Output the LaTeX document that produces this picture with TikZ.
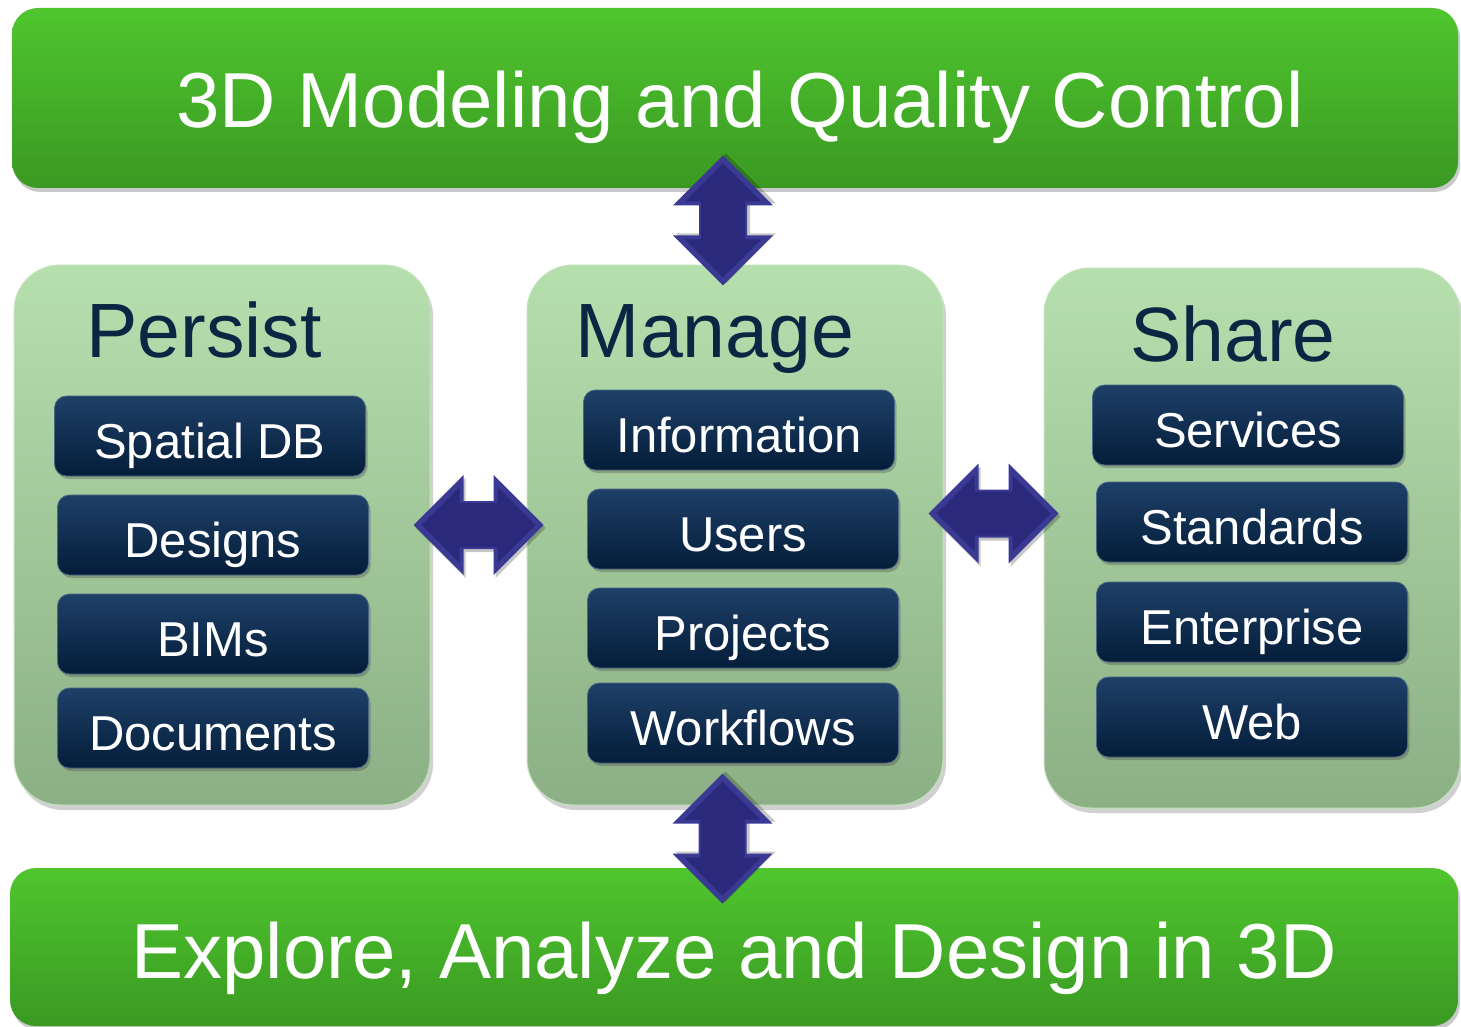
\documentclass[tikz,border=0pt]{standalone}
\usepackage{fontspec}
\setmainfont{Liberation Sans}
\usetikzlibrary{shadows,calc}
\definecolor{barTop}{HTML}{4FC62E}
\definecolor{barBot}{HTML}{3A9922}
\definecolor{panTop}{HTML}{B6DFAE}
\definecolor{panMid}{HTML}{ABD4A2}
\definecolor{panBot}{HTML}{8CAF85}
\definecolor{panRim}{HTML}{C3E4BB}
\definecolor{boxTop}{HTML}{1E4068}
\definecolor{boxBot}{HTML}{041D39}
\definecolor{titleNavy}{HTML}{0C2542}
\definecolor{arrOut}{HTML}{3A3994}
\definecolor{arrIn}{HTML}{2B297C}
\begin{document}
\begin{tikzpicture}[x=1pt,y=-1pt,
  bar/.style={rectangle, rounded corners=26pt, top color=barTop, bottom color=barBot,
    drop shadow={shadow xshift=2pt, shadow yshift=-4pt, opacity=0.35, fill=black!60}},
  panel/.style={rectangle, rounded corners=46pt, top color=panTop, middle color=panMid, bottom color=panBot,
    draw=panRim, line width=1pt, minimum width=416pt, minimum height=540pt,
    drop shadow={shadow xshift=3pt, shadow yshift=-5pt, opacity=0.3, fill=black!60}},
  item/.style={rectangle, rounded corners=12pt, top color=boxTop, bottom color=boxBot,
    draw=boxTop!80!white, line width=0.8pt, minimum width=311pt, minimum height=80pt,
    text=white, font=\fontsize{49}{56}\selectfont, text height=45pt, text depth=0pt,
    drop shadow={shadow xshift=2pt, shadow yshift=-3pt, opacity=0.35, fill=black!70}},
  bigtitle/.style={anchor=base, text=white, font=\fontsize{78}{90}\selectfont, inner sep=0pt},
  ptitle/.style={anchor=base, text=titleNavy, font=\fontsize{77}{88}\selectfont, inner sep=0pt},
  dblarrow/.pic={
    \fill[black, opacity=0.22, xshift=2pt, yshift=-3pt]
      (-65,0) -- (-15,-50) -- (-15,-24) -- (15,-24) -- (15,-50) -- (65,0)
      -- (15,50) -- (15,24) -- (-15,24) -- (-15,50) -- cycle;
    \fill[arrOut]
      (-65,0) -- (-15,-50) -- (-15,-24) -- (15,-24) -- (15,-50) -- (65,0)
      -- (15,50) -- (15,24) -- (-15,24) -- (-15,50) -- cycle;
    \fill[arrIn]
      (-57,0) -- (-19,-38) -- (-19,-22) -- (19,-22) -- (19,-38) -- (57,0)
      -- (19,38) -- (19,22) -- (-19,22) -- (-19,38) -- cycle;
  }
]
\useasboundingbox (0,0) rectangle (1461,1027);
\fill[white] (0,0) rectangle (1461,1027);

% top and bottom bars
\node[bar, minimum width=1446pt, minimum height=180pt] (topbar) at (735,98) {};
\node[bar, minimum width=1448pt, minimum height=158pt] (botbar) at (734,947) {};
\node[bigtitle] (toptext) at (740,128) {3D Modeling and Quality Control};
\node[bigtitle] (bottext) at (734,978) {Explore, Analyze and Design in 3D};

% panels
\node[panel] (persist) at (222,535) {};
\node[panel] (manage) at (735,535) {};
\node[panel] (share) at (1252,538) {};

\node[ptitle] (persistT) at (204,357) {Persist};
\node[ptitle] (manageT) at (715,357) {Manage};
\node[ptitle] (shareT) at (1233,361) {Share};

% Persist items
\node[item] (p1) at (210,436) {Spatial DB};
\node[item] (p2) at (213,535) {Designs};
\node[item] (p3) at (213,634) {BIMs};
\node[item] (p4) at (213,728) {Documents};

% Manage items
\node[item] (m1) at (739,430) {Information};
\node[item] (m2) at (743,529) {Users};
\node[item] (m3) at (743,628) {Projects};
\node[item] (m4) at (743,723) {Workflows};

% Share items
\node[item] (s1) at (1248,425) {Services};
\node[item] (s2) at (1252,522) {Standards};
\node[item] (s3) at (1252,622) {Enterprise};
\node[item] (s4) at (1252,717) {Web};

% connecting double arrows
\coordinate (aPM) at ($(persist.east)!0.5!(manage.west)+(0,-10)$);
\coordinate (aMS) at ($(manage.east)!0.5!(share.west)+(0,-23)$);
\coordinate (aTM) at ($(topbar.south)!0.5!(manage.north)+(-12,-6)$);
\coordinate (aMB) at ($(manage.south)!0.5!(botbar.north)+(-12,2)$);
\pic at (aPM) {dblarrow};
\pic at (aMS) {dblarrow};
\pic[rotate=90] at (aTM) {dblarrow};
\pic[rotate=90] at (aMB) {dblarrow};
\end{tikzpicture}
\end{document}
